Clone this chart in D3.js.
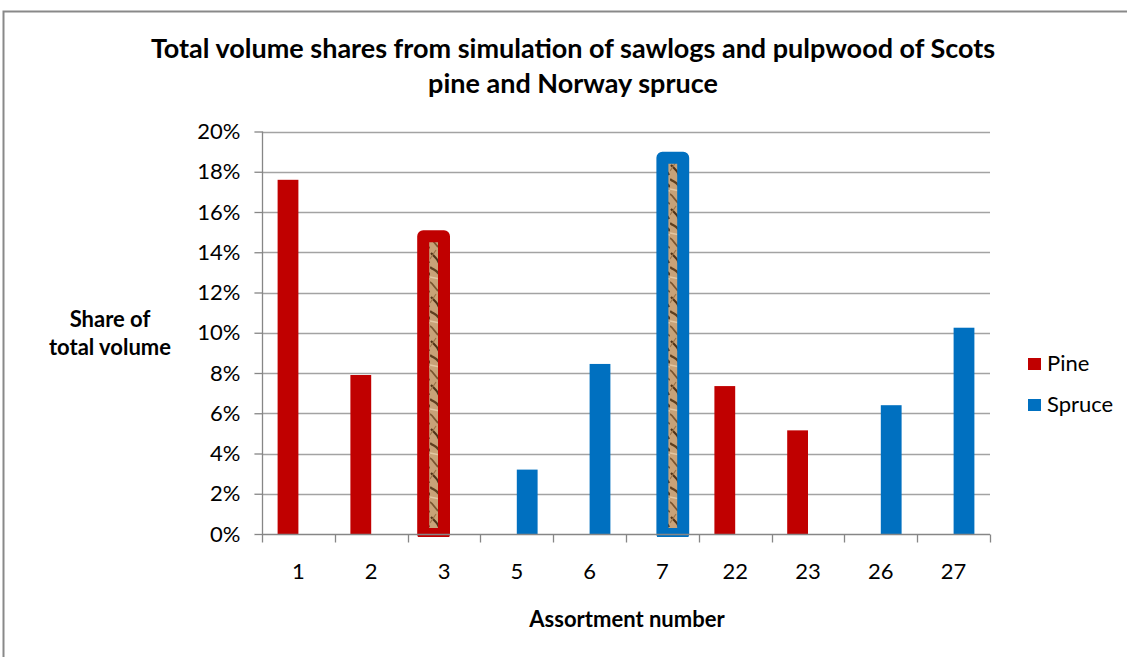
<!DOCTYPE html>
<html>
<head>
<meta charset="utf-8">
<script src="https://cdn.jsdelivr.net/npm/d3@7"></script>
<style>
  body { margin: 0; background: #fff; }
  text { font-family: Lato, "Open Sans", sans-serif; fill: #000; }
</style>
</head>
<body>
<div id="chart"></div>
<script>
// Data
const categories = ["1", "2", "3", "5", "6", "7", "22", "23", "26", "27"];
const pine   = [17.6, 7.9, 14.8, 0, 0, 0, 7.35, 5.15, 0, 0];
const spruce = [0, 0, 0, 3.2, 8.45, 18.7, 0, 0, 6.4, 10.25];
const highlighted = ["3", "7"];
const yTicks = [0, 2, 4, 6, 8, 10, 12, 14, 16, 18, 20];
const seriesNames = ["Pine", "Spruce"];
const colors = ["#C00000", "#0070C0"];

const W = 1127, H = 657;
const plot = { left: 262, right: 990, top: 131.5, bottom: 534 };

const svg = d3.select("#chart").append("svg")
    .attr("width", W)
    .attr("height", H);

// outer chart border
svg.append("rect")
    .attr("x", 3.5).attr("y", 11.5)
    .attr("width", W + 10).attr("height", H + 10)
    .attr("fill", "none")
    .attr("stroke", "#898989")
    .attr("stroke-width", 2);

// wood texture for the highlighted bars
const defs = svg.append("defs");
const wood = defs.append("pattern")
    .attr("id", "wood")
    .attr("patternUnits", "userSpaceOnUse")
    .attr("width", 10).attr("height", 44);
wood.append("rect").attr("width", 10).attr("height", 44).attr("fill", "#c8a278");
wood.append("path").attr("d", "M0,3 C3,6 6,5 10,11").attr("stroke", "#5e3f1f").attr("stroke-width", 2.4).attr("fill", "none");
wood.append("path").attr("d", "M0,18 C4,20 5,26 10,28").attr("stroke", "#7a5530").attr("stroke-width", 1.8).attr("fill", "none");
wood.append("path").attr("d", "M1,33 C4,36 7,38 9,43").attr("stroke", "#4f3318").attr("stroke-width", 2.2).attr("fill", "none");
wood.append("path").attr("d", "M0,13 L10,15").attr("stroke", "#e3c7a2").attr("stroke-width", 1.5).attr("fill", "none");
wood.append("path").attr("d", "M0,39 L6,30").attr("stroke", "#9c7448").attr("stroke-width", 1.2).attr("fill", "none");

defs.append("clipPath").attr("id", "plotclip")
    .append("rect")
    .attr("x", plot.left - 20).attr("y", 0)
    .attr("width", plot.right - plot.left + 40)
    .attr("height", plot.bottom + 3);

// Scales
const x = d3.scaleBand().domain(categories).range([plot.left, plot.right]).padding(0);
const y = d3.scaleLinear().domain([0, 20]).range([plot.bottom, plot.top]);
const bw = x.bandwidth() / 3.5;

// gridlines
svg.append("g")
    .selectAll("line")
    .data(yTicks.filter(d => d > 0))
    .enter().append("line")
    .attr("x1", plot.left).attr("x2", plot.right)
    .attr("y1", d => Math.round(y(d)) + 0.5).attr("y2", d => Math.round(y(d)) + 0.5)
    .attr("stroke", "#a3a3a3")
    .attr("stroke-width", 1.3);

// y axis
const yAxis = svg.append("g")
    .attr("transform", `translate(${plot.left + 0.5},0)`)
    .call(d3.axisLeft(y).tickValues(yTicks).tickSize(8).tickPadding(14).tickFormat(d => d + "%"));
yAxis.selectAll("line, path").attr("stroke", "#868686").attr("stroke-width", 1.3);
yAxis.select(".domain").attr("d", `M0,${plot.bottom}V${plot.top}`);
yAxis.selectAll("text")
    .style("font-size", "22px")
    .style("font-family", "Lato, sans-serif")
    .attr("fill", "#262626");

// bars
const series = [pine, spruce];
const barData = [];
series.forEach((vals, s) => {
    vals.forEach((v, i) => {
        if (v > 0) barData.push({ cat: categories[i], value: v, s: s });
    });
});

const bars = svg.append("g").attr("clip-path", "url(#plotclip)");
bars.selectAll("rect")
    .data(barData)
    .enter().append("rect")
    .attr("x", d => x(d.cat) + x.bandwidth() / 2 - (d.s === 0 ? bw : 0))
    .attr("y", d => y(d.value))
    .attr("width", bw)
    .attr("height", d => plot.bottom - y(d.value))
    .attr("fill", d => highlighted.includes(d.cat) ? "url(#wood)" : colors[d.s])
    .attr("stroke", d => highlighted.includes(d.cat) ? colors[d.s] : "none")
    .attr("stroke-width", 12)
    .attr("stroke-linejoin", "round");

// x axis
const xAxis = svg.append("g")
    .attr("transform", `translate(0,${plot.bottom + 0.5})`)
    .call(d3.axisBottom(x).tickSize(0).tickPadding(29));
xAxis.select(".domain").attr("stroke", "#868686").attr("stroke-width", 1.3)
    .attr("d", `M${plot.left},0H${plot.right}`);
xAxis.selectAll("text")
    .style("font-size", "22px")
    .style("font-family", "Lato, sans-serif")
    .attr("fill", "#262626");
// boundary ticks between categories
xAxis.append("g").selectAll("line")
    .data(categories.map(c => x(c)).concat([plot.right]))
    .enter().append("line")
    .attr("x1", d => Math.round(d) + 0.5).attr("x2", d => Math.round(d) + 0.5)
    .attr("y1", 0).attr("y2", 8)
    .attr("stroke", "#868686").attr("stroke-width", 1.3);

// title
const title = svg.append("text")
    .attr("text-anchor", "middle")
    .style("font-size", "27px")
    .style("font-weight", "bold");
title.append("tspan").attr("x", 573).attr("y", 58)
    .text("Total volume shares from simulation of sawlogs and pulpwood of Scots");
title.append("tspan").attr("x", 573).attr("y", 93)
    .text("pine and Norway spruce");

// y axis title
const yTitle = svg.append("text")
    .attr("text-anchor", "middle")
    .style("font-size", "22px")
    .style("font-weight", "bold");
yTitle.append("tspan").attr("x", 110).attr("y", 327).text("Share of");
yTitle.append("tspan").attr("x", 110).attr("y", 355).text("total volume");

// x axis title
svg.append("text")
    .attr("x", 627).attr("y", 627)
    .attr("text-anchor", "middle")
    .style("font-size", "22px")
    .style("font-weight", "bold")
    .text("Assortment number");

// legend
const legend = svg.append("g")
    .selectAll("g")
    .data(seriesNames)
    .enter().append("g")
    .attr("transform", (d, i) => `translate(1028,${358 + i * 41})`);
legend.append("rect")
    .attr("width", 13).attr("height", 12)
    .attr("fill", (d, i) => colors[i]);
legend.append("text")
    .attr("x", 19).attr("y", 12.5)
    .style("font-size", "22px")
    .attr("fill", "#262626")
    .text(d => d);
</script>
</body>
</html>
